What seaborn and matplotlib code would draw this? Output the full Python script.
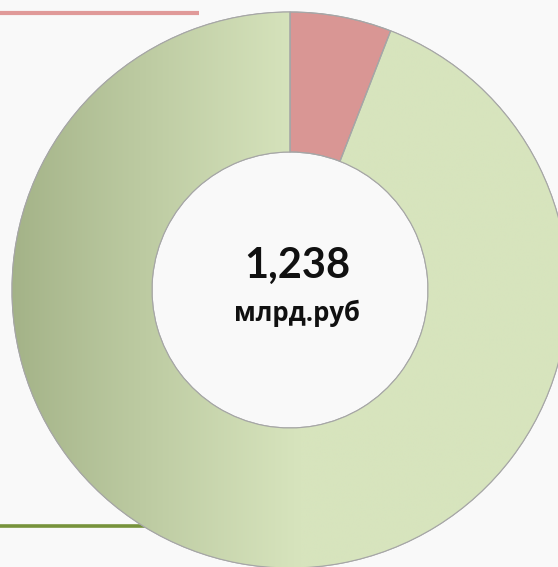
import numpy as np
import matplotlib.pyplot as plt
import matplotlib.colors as mcolors
import seaborn as sns

# --------------------------------
# Data
# --------------------------------
segments = ["Red share", "Green share"]
shares = [5.9, 94.1]
total_value = "1,238"
unit_label = "млрд.руб"

slice_colors = ["#d99694", "#d7e4bd"]

# --------------------------------
# Style
# --------------------------------
sns.set_style("white")
plt.rcParams["font.family"] = ["Lato", "Open Sans", "DejaVu Sans"]

W, H = 558, 567
fig = plt.figure(figsize=(W / 100, H / 100), dpi=100)
fig.patch.set_facecolor("#f9f9f9")
ax = fig.add_axes([0, 0, 1, 1])
ax.set_facecolor("#f9f9f9")

cx, cy, R = 290, 277, 278

# decorative lines behind the chart
ax.plot([0, 199], [554, 554], color="#e09a99", lw=3.0, solid_capstyle="butt", zorder=1)
ax.plot([0, 170], [41, 41], color="#77933c", lw=2.6, solid_capstyle="butt", zorder=1)

# --------------------------------
# Donut
# --------------------------------
wedges, _ = ax.pie(
    shares,
    colors=slice_colors,
    startangle=90,
    counterclock=False,
    center=(cx, cy),
    radius=R,
    frame=True,
    wedgeprops=dict(width=140, edgecolor="#a6a6a6", linewidth=0.8),
)
for w in wedges:
    w.set_zorder(2)

# horizontal shading on the green ring (darker on the left)
dark = np.array(mcolors.to_rgb("#a3b287"))
light = np.array(mcolors.to_rgb("#d7e4bd"))
xs = np.linspace(0, W, 400)
t = np.clip((xs - 12) / (300 - 12), 0, 1) ** 0.9
grad = dark[None, :] * (1 - t[:, None]) + light[None, :] * t[:, None]
img = np.tile(grad[None, :, :], (2, 1, 1))
im = ax.imshow(img, extent=[0, W, 0, H], aspect="auto", zorder=2.5, interpolation="bilinear")
im.set_clip_path(wedges[1])

# redraw outline over the shading
ax.pie(
    shares,
    colors=["none", "none"],
    startangle=90,
    counterclock=False,
    center=(cx, cy),
    radius=R,
    frame=True,
    wedgeprops=dict(width=140, edgecolor="#a6a6a6", linewidth=0.8, zorder=3),
)
ax.set_xlim(0, W)
ax.set_ylim(0, H)
ax.set_aspect("equal")
ax.axis("off")

# --------------------------------
# Center labels
# --------------------------------
ax.text(297, 289, total_value, ha="center", va="baseline",
        fontsize=30, fontweight="bold", color="#111111", zorder=4)
ax.text(297, 246, unit_label, ha="center", va="baseline",
        fontsize=18.5, fontweight="bold", color="#111111", zorder=4,
        family=["Open Sans", "DejaVu Sans"])

fig.savefig("out.png", dpi=100, facecolor=fig.get_facecolor())
